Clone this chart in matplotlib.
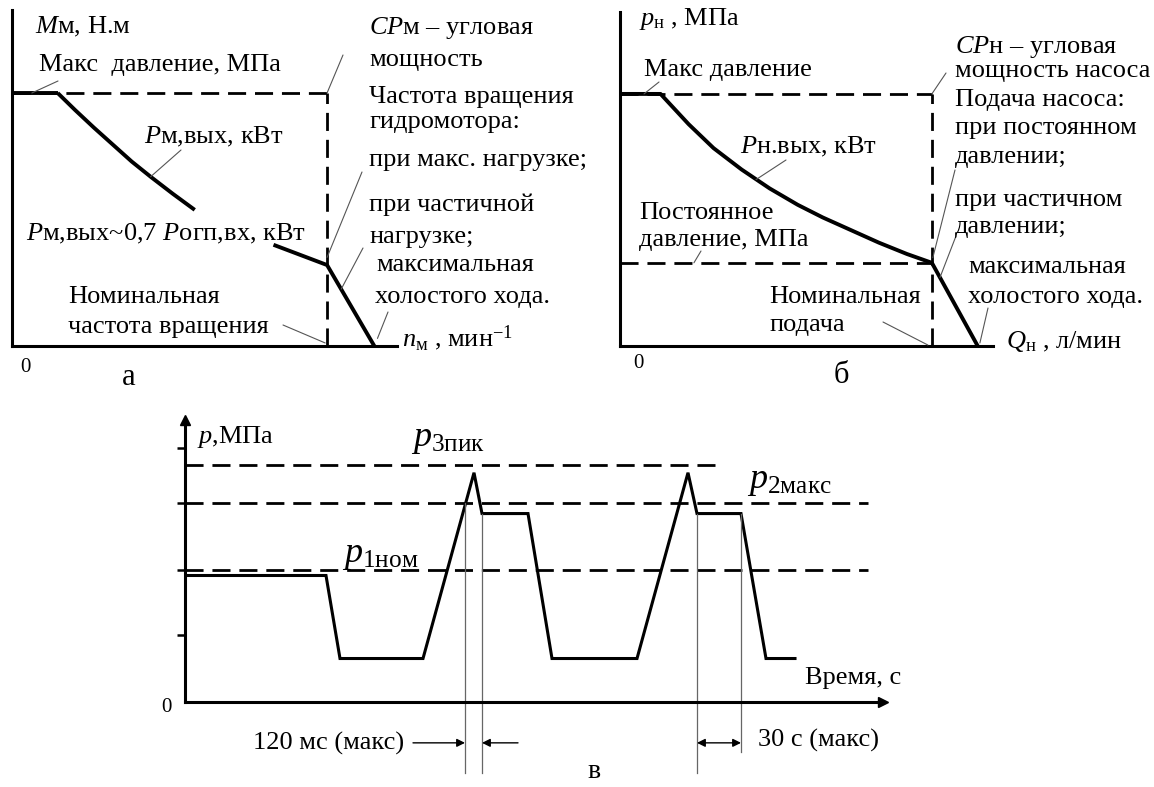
import matplotlib
matplotlib.use("Agg")
import matplotlib.pyplot as plt

plt.rcParams['font.family'] = ['Liberation Serif', 'DejaVu Serif']
plt.rcParams['mathtext.fontset'] = 'custom'
plt.rcParams['mathtext.rm'] = 'Liberation Serif'
plt.rcParams['mathtext.it'] = 'Liberation Serif:italic'

# ---------------- data (schematic units) ----------------
# panel a: hydraulic motor torque vs speed
a_flat_x = [0, 14.5]
a_flat_y = [100, 100]
a_curve_x = [14.5, 20, 26, 32, 38, 44, 51, 58]
a_curve_y = [100, 93.3, 86.3, 79.6, 72.9, 66.9, 60.2, 53.8]
a_tail_x = [83, 100, 115]
a_tail_y = [40, 32, 0]
a_nom_x = 100
a_max_y = 100

# panel b: pump pressure vs flow
b_curve_x = [0, 13, 22, 30, 39, 48, 57, 65, 74, 83, 92, 100, 114.7]
b_curve_y = [100, 100, 88, 78.5, 70, 62.5, 56, 51, 46, 41, 36.5, 33, 0]
b_nom_x = 100
b_max_y = 100
b_const_y = 33

# panel c: pressure vs time
c_t = [0, 14.1, 15.5, 23.8, 28.9, 29.7, 34.3, 36.7, 45.2, 50.3, 51.2, 55.6, 58.1, 61.0]
c_p = [9.6, 9.6, 3.3, 3.3, 17.4, 14.3, 14.3, 3.3, 3.3, 17.4, 14.3, 14.3, 3.3, 3.3]
p1_nom = 10.0
p2_max = 15.1
p3_peak = 18.0
c_yticks = [5.1, 10.0, 15.1, 19.3]
mark_t = [28.0, 29.7, 51.2, 55.6]
mark_top = [15.1, 14.3, 14.3, 14.3]
mark_bot = [-5.4, -5.4, -5.4, -3.8]
dim_y = -3.1

# ---------------- figure ----------------
W, H = 1154, 787
fig = plt.figure(figsize=(W / 100, H / 100), dpi=100)
fig.patch.set_facecolor('white')
FS = 19


def add_ax(l, r, b, t):
    return fig.add_axes([l / W, 1 - b / H, (r - l) / W, (b - t) / H])


def T(x, y, s, size=FS, ha='left', va='center', **kw):
    fig.text(x / W, 1 - y / H, s, fontsize=size, ha=ha, va=va, **kw)


def leader(ax, xy, px):
    ax.annotate('', xy=xy, xycoords='data',
                xytext=(px[0] / W, 1 - px[1] / H), textcoords='figure fraction',
                arrowprops=dict(arrowstyle='-', lw=0.8, color='#555555',
                                shrinkA=0, shrinkB=0),
                annotation_clip=False)


def style(ax):
    ax.set_facecolor('none')
    for s in ['top', 'right']:
        ax.spines[s].set_visible(False)
    for s in ['left', 'bottom']:
        ax.spines[s].set_linewidth(2.2)
    ax.set_xticks([])
    ax.set_yticks([])


DASH = dict(color='black', lw=2.0, dashes=(6.5, 3.2))
SOLID = dict(color='black', lw=2.8, solid_capstyle='butt', solid_joinstyle='round')

# ---------- panel a ----------
axa = add_ax(12, 397, 346, 10)
style(axa)
axa.set_xlim(0, 122.2)
axa.set_ylim(0, 132.8)
axa.plot([0, a_nom_x], [a_max_y, a_max_y], **DASH)
axa.plot([a_nom_x, a_nom_x], [0, a_max_y], **DASH)
axa.plot(a_flat_x, a_flat_y, **SOLID)
axa.plot(a_curve_x, a_curve_y, **SOLID)
axa.plot(a_tail_x, a_tail_y, **SOLID)

T(35, 27, '$M$м, Н.м')
T(39, 65, 'Макс  давление, МПа')
T(144, 137, '$P$м,вых, кВт')
T(26, 234, '$P$м,вых~0,7 $P$огп,вх, кВт')
T(68, 297, 'Номинальная')
T(68, 327, 'частота вращения')
T(369, 28, '$CP$м – угловая')
T(369, 60, 'мощность')
T(369, 97, 'Частота вращения')
T(369, 122, 'гидромотора:')
T(369, 160, 'при макс. нагрузке;')
T(369, 205, 'при частичной')
T(369, 237, 'нагрузке;')
T(376, 265, 'максимальная')
T(375, 297, 'холостого хода.')
T(402, 338, '$n_{\\mathrm{м}}$ , мин$^{\\mathrm{-1}}$')
T(20, 368, '0', size=15)
T(122, 378, 'а', size=22)

leader(axa, (6.3, 100), (58, 81))
leader(axa, (44, 66.9), (181, 150))
leader(axa, (100, 100), (343, 55))
leader(axa, (100, 35), (362, 172))
leader(axa, (104.5, 22.5), (363, 248))
leader(axa, (116, 3), (388, 312))
leader(axa, (99.4, 1.2), (283, 325))

# ---------- panel b ----------
axb = add_ax(620, 993, 346, 12)
style(axb)
axb.set_xlim(0, 119.6)
axb.set_ylim(0, 132.5)
axb.plot([0, b_nom_x], [b_max_y, b_max_y], **DASH)
axb.plot([b_nom_x, b_nom_x], [0, b_max_y], **DASH)
axb.plot([0, b_nom_x], [b_const_y, b_const_y], **DASH)
axb.plot(b_curve_x, b_curve_y, **SOLID)

T(639, 19, '$p_{\\mathrm{н}}$ , МПа')
T(644, 70, 'Макс давление')
T(740, 147, '$P$н.вых, кВт')
T(639, 213, 'Постоянное')
T(639, 240, 'давление, МПа')
T(769, 297, 'Номинальная')
T(769, 325, 'подача')
T(955, 47, '$CP$н – угловая')
T(955, 71, 'мощность насоса')
T(955, 100, 'Подача насоса:')
T(955, 128, 'при постоянном')
T(955, 157, 'давлении;')
T(955, 200, 'при частичном')
T(955, 227, 'давлении;')
T(968, 267, 'максимальная')
T(968, 297, 'холостого хода.')
T(1006, 342, '$Q_{\\mathrm{н}}$ , л/мин')
T(633, 363, '0', size=15)
T(834, 375, 'б', size=22)

leader(axb, (7.7, 100), (659, 82))
leader(axb, (43.6, 66), (786, 160))
leader(axb, (23.7, 33), (701, 251))
leader(axb, (98.7, 0.4), (883, 322))
leader(axb, (100, 100), (946, 73))
leader(axb, (100.3, 35), (955, 170))
leader(axb, (102.6, 27.2), (956, 236))
leader(axb, (115.4, 1.2), (988, 308))

# ---------- panel c ----------
axc = add_ax(185, 883, 702, 420)
axc.set_facecolor('none')
for s in ['top', 'right']:
    axc.spines[s].set_visible(False)
for s in ['left', 'bottom']:
    axc.spines[s].set_linewidth(2.2)
axc.set_xlim(0, 69.8)
axc.set_ylim(0, 21.4)
axc.set_xticks([])
axc.set_yticks(c_yticks)
axc.set_yticklabels([])
axc.tick_params(axis='y', direction='out', length=6, width=1.8)
axc.plot(0, 1, '^k', ms=7, transform=axc.get_xaxis_transform(), clip_on=False)
axc.plot(1, 0, '>k', ms=7, transform=axc.get_yaxis_transform(), clip_on=False)

axc.plot([0, 53.6], [p3_peak, p3_peak], **DASH)
axc.plot([0, 68.3], [p2_max, p2_max], **DASH)
axc.plot([0, 68.3], [p1_nom, p1_nom], **DASH)
axc.plot(c_t, c_p, color='black', lw=2.2, solid_joinstyle='miter')
for t, top, bot in zip(mark_t, mark_top, mark_bot):
    axc.plot([t, t], [bot, top], color='#666666', lw=0.9, clip_on=False)

ap = dict(arrowstyle='-|>', lw=1.0, color='black', mutation_scale=12,
          shrinkA=0, shrinkB=0)
axc.annotate('', xy=(mark_t[0], dim_y), xytext=(22.8, dim_y), arrowprops=ap,
             annotation_clip=False)
axc.annotate('', xy=(mark_t[1], dim_y), xytext=(33.3, dim_y), arrowprops=ap,
             annotation_clip=False)
ap2 = dict(arrowstyle='<|-|>', lw=1.0, color='black', mutation_scale=12,
           shrinkA=0, shrinkB=0)
axc.annotate('', xy=(mark_t[2], dim_y), xytext=(mark_t[3], dim_y), arrowprops=ap2,
             annotation_clip=False)

T(197, 437, '$p$,МПа')
T(411, 440, '$p_{\\mathrm{3пик}}$', size=26)
T(747, 481, '$p_{\\mathrm{2макс}}$', size=26)
T(342, 555, '$p_{\\mathrm{1ном}}$', size=26)
T(161, 707, '0', size=15)
T(805, 678, 'Время, с')
T(253, 743, '120 мс (макс)')
T(758, 740, '30 с (макс)')
T(587, 771, 'в', size=20)

fig.savefig('out.png', dpi=100, facecolor='white')
